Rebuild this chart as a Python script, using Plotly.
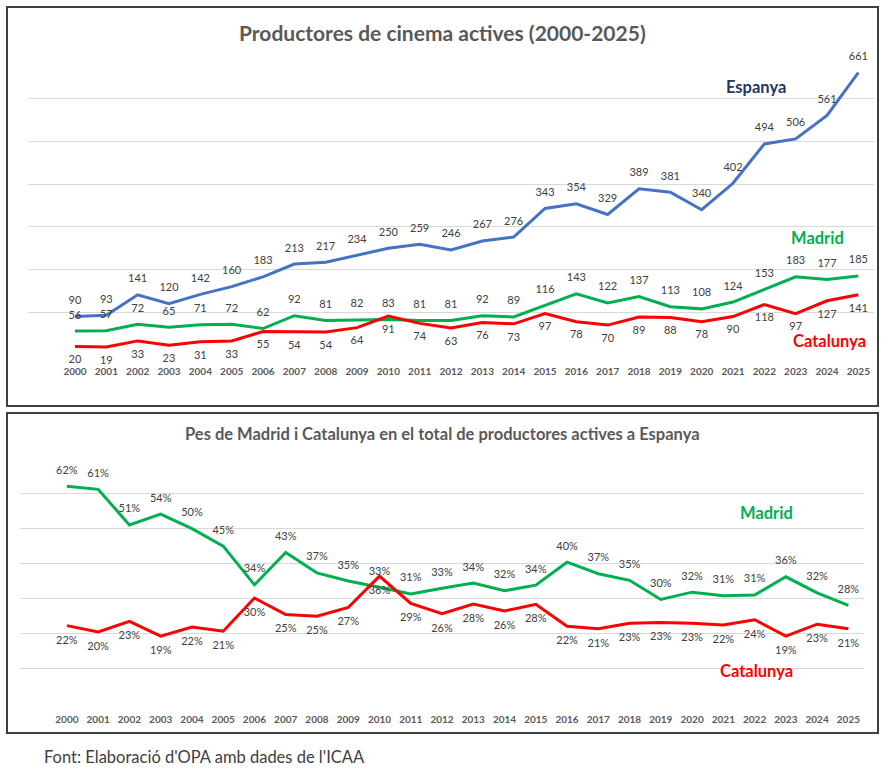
import plotly.graph_objects as go

# data
years = [2000, 2001, 2002, 2003, 2004, 2005, 2006, 2007, 2008, 2009, 2010, 2011, 2012,
         2013, 2014, 2015, 2016, 2017, 2018, 2019, 2020, 2021, 2022, 2023, 2024, 2025]
espanya = [90, 93, 141, 120, 142, 160, 183, 213, 217, 234, 250, 259, 246,
           267, 276, 343, 354, 329, 389, 381, 340, 402, 494, 506, 561, 661]
madrid = [56, 57, 72, 65, 71, 72, 62, 92, 81, 82, 83, 81, 81,
          92, 89, 116, 143, 122, 137, 113, 108, 124, 153, 183, 177, 185]
catalunya = [20, 19, 33, 23, 31, 33, 55, 54, 54, 64, 91, 74, 63,
             76, 73, 97, 78, 70, 89, 88, 78, 90, 118, 97, 127, 141]

# share of the Spanish total (bottom panel)
madrid_pct = [0.622, 0.613, 0.511, 0.542, 0.500, 0.450, 0.339, 0.432, 0.373, 0.350, 0.332, 0.313, 0.329,
              0.344, 0.322, 0.338, 0.404, 0.371, 0.352, 0.297, 0.318, 0.308, 0.310, 0.362, 0.316, 0.280]
catalunya_pct = [0.222, 0.204, 0.234, 0.192, 0.218, 0.206, 0.301, 0.254, 0.249, 0.274, 0.364, 0.286, 0.256,
                 0.284, 0.264, 0.283, 0.220, 0.213, 0.229, 0.231, 0.229, 0.224, 0.239, 0.192, 0.226, 0.213]

W, H = 886, 770
FONT = "Lato"
GREY = "#404040"
BLUE = "#4472C4"
GREEN = "#00B050"
RED = "#FF0000"


def px(x):
    return x / W


def py(y):
    return 1 - y / H


def line_trace(y, color, pos, tmpl, xa, ya, msize=14):
    return go.Scatter(
        x=years, y=y, mode="lines+markers+text",
        line=dict(color=color, width=3),
        marker=dict(size=msize, color="rgba(0,0,0,0)"),
        text=y, texttemplate=tmpl, textposition=pos,
        textfont=dict(family=FONT, size=11, color=GREY),
        cliponaxis=False,
        xaxis=xa, yaxis=ya, showlegend=False, hoverinfo="skip",
    )


fig = go.Figure()

# top panel: number of producers
fig.add_trace(line_trace(espanya, BLUE, "top center", "%{y}", "x", "y"))
fig.add_trace(line_trace(madrid, GREEN, "top center", "%{y}", "x", "y"))
fig.add_trace(line_trace(catalunya, RED, "bottom center", "%{y}", "x", "y", msize=12))

# bottom panel: share of total
fig.add_trace(line_trace(madrid_pct, GREEN, "top center", "%{y:.0%}", "x2", "y2"))
fig.add_trace(line_trace(catalunya_pct, RED, "bottom center", "%{y:.0%}", "x2", "y2"))

xcommon = dict(
    tickvals=years, ticktext=[f"<b>{y}</b>" for y in years],
    tickfont=dict(family=FONT, size=10, color="#595959"),
    showgrid=False, zeroline=False, showline=False, ticks="",
    range=[1998.5, 2025.5], ticklabelstandoff=9,
)
ycommon = dict(
    showticklabels=False, showgrid=True, gridcolor="#D9D9D9", gridwidth=1,
    zeroline=False, showline=False, ticks="",
)

fig.update_layout(
    width=W, height=H,
    margin=dict(l=0, r=0, t=0, b=0),
    paper_bgcolor="white", plot_bgcolor="white",
    font=dict(family=FONT, color=GREY),
    xaxis=dict(domain=[px(28), px(874)], anchor="y", **xcommon),
    yaxis=dict(domain=[py(355), py(56)], anchor="x", range=[0, 700], dtick=100, **ycommon),
    xaxis2=dict(domain=[px(20), px(864)], anchor="y2", **xcommon),
    yaxis2=dict(domain=[py(703), py(459)], anchor="x2", range=[0, 0.7], dtick=0.1, **ycommon),
)

# panel frames
fig.add_shape(type="rect", xref="paper", yref="paper", x0=px(7), x1=px(878), y0=py(406), y1=py(7),
              line=dict(color=GREY, width=2), layer="above")
fig.add_shape(type="rect", xref="paper", yref="paper", x0=px(7), x1=px(878), y0=py(733), y1=py(413),
              line=dict(color=GREY, width=2), layer="above")


def label(text, x, y, size, color, bold=True):
    fig.add_annotation(
        text=f"<b>{text}</b>" if bold else text, x=px(x), y=py(y), xref="paper", yref="paper",
        showarrow=False, xanchor="center", yanchor="middle",
        font=dict(family=FONT, size=size, color=color),
    )


label("Productores de cinema actives (2000-2025)", 442, 32, 21, "#595959")
label("Espanya", 756, 87, 16.5, "#1F3864")
label("Madrid", 817, 238, 16.5, GREEN)
label("Catalunya", 829, 341, 16.5, RED)

label("Pes de Madrid i Catalunya en el total de productores actives a Espanya", 442, 434, 16.5, "#595959")
label("Madrid", 766, 513, 16.5, GREEN)
label("Catalunya", 756, 671, 16.5, RED)

fig.add_annotation(
    text="Font: Elaboració d'OPA amb dades de l'ICAA", x=px(42), y=py(757), xref="paper", yref="paper",
    showarrow=False, xanchor="left", yanchor="middle",
    font=dict(family=FONT, size=16.5, color="#404040"),
)

# the page body has a default margin; drop it so the figure sits at the top-left corner
fig.write_html("out.html", config={"displayModeBar": False},
               post_script="document.body.style.margin='0';")
